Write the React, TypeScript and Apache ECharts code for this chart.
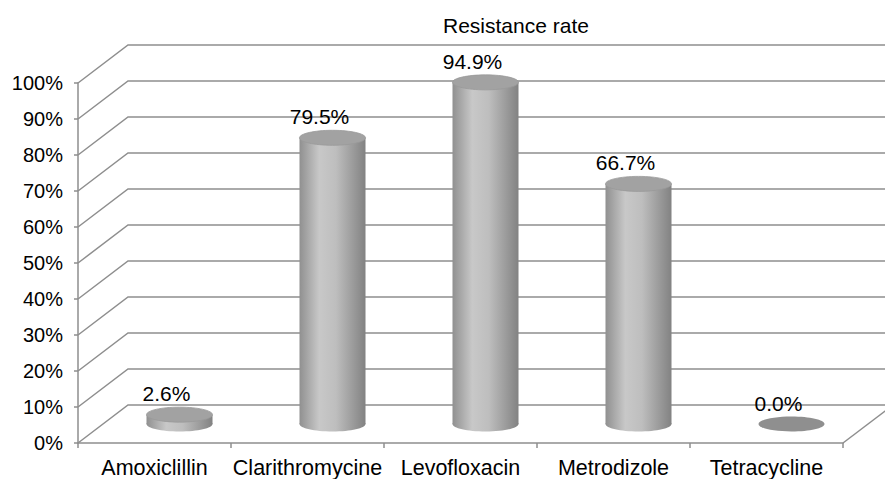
import React, { useEffect, useRef } from "react";
import * as echarts from "echarts";

const categories = ["Amoxiclillin", "Clarithromycine", "Levofloxacin", "Metrodizole", "Tetracycline"];
const rates = [2.6, 79.5, 94.9, 66.7, 0.0];
const gridValues = [0, 10, 20, 30, 40, 50, 60, 70, 80, 90, 100];
const titleText = "Resistance rate";

const DX = 50;
const DY = 38;
const RX = 33;
const RY = 7.5;
const GRID_COLOR = "#8e8e8e";
const FONT = "Liberation Sans, Arial, sans-serif";

export default function App() {
  const ref = useRef<HTMLDivElement>(null);
  useEffect(() => {
    if (!ref.current) return;
    const chart = echarts.init(ref.current, undefined, { renderer: "svg" });
    const bodyGrad = () =>
      new echarts.graphic.LinearGradient(0, 0, 1, 0, [
        { offset: 0, color: "#909090" },
        { offset: 0.3, color: "#c8c8c8" },
        { offset: 0.55, color: "#bebebe" },
        { offset: 1, color: "#828282" },
      ]);
    const option: any = {
      animation: false,
      backgroundColor: "#ffffff",
      title: {
        text: titleText,
        left: 438,
        top: 10,
        textStyle: { fontFamily: FONT, fontSize: 21, fontWeight: "normal", color: "#000" },
      },
      grid: { left: 78, right: 42, top: 83, bottom: 35 },
      xAxis: {
        type: "category",
        data: categories,
        boundaryGap: true,
        axisLine: { show: true, lineStyle: { color: GRID_COLOR, width: 1.5 } },
        axisTick: { show: true, length: 5, interval: 0, alignWithLabel: false, lineStyle: { color: GRID_COLOR, width: 1.5 } },
        axisLabel: {
          interval: 0,
          margin: 14,
          fontFamily: FONT,
          fontSize: 21.5,
          color: "#000",
        },
        splitLine: { show: false },
      },
      yAxis: {
        type: "value",
        min: 0,
        max: 100,
        interval: 10,
        axisLine: { show: true, lineStyle: { color: GRID_COLOR, width: 1.5 } },
        axisTick: { show: true, length: 4, lineStyle: { color: GRID_COLOR, width: 1.5 } },
        axisLabel: {
          formatter: "{value}%",
          margin: 15,
          fontFamily: FONT,
          fontSize: 20,
          color: "#000",
        },
        splitLine: { show: false },
      },
      series: [
        {
          type: "custom",
          z: 1,
          silent: true,
          data: gridValues.map((v) => [0, v]),
          renderItem: (params: any, api: any) => {
            const v = api.value(1);
            const cs = params.coordSys;
            const y = api.coord([0, v])[1];
            const x0 = cs.x;
            const x1 = cs.x + cs.width;
            const children: any[] = [
              {
                type: "polyline",
                shape: { points: [[x0, y], [x0 + DX, y - DY], [x1 + DX, y - DY]] },
                style: { stroke: GRID_COLOR, lineWidth: 1.5, fill: "none" },
              },
            ];
            if (v === 0) {
              children.push({
                type: "line",
                shape: { x1: x1, y1: y, x2: x1 + DX, y2: y - DY },
                style: { stroke: GRID_COLOR, lineWidth: 1.5 },
              });
            }
            return { type: "group", children };
          },
        },
        {
          type: "custom",
          z: 2,
          data: rates.map((v, i) => [i, v]),
          renderItem: (params: any, api: any) => {
            const idx = api.value(0);
            const v = api.value(1);
            const top = api.coord([idx, v]);
            const base = api.coord([idx, 0]);
            const cx = top[0] + DX / 2;
            const ty = top[1] - DY / 2;
            const by = base[1] - DY / 2;
            const h = by - ty;
            const children: any[] = [];
            if (h > 0.5) {
              children.push({
                type: "ellipse",
                shape: { cx, cy: by, rx: RX, ry: RY },
                style: { fill: bodyGrad() },
              });
              children.push({
                type: "rect",
                shape: { x: cx - RX, y: ty, width: RX * 2, height: h },
                style: { fill: bodyGrad() },
              });
              children.push({
                type: "ellipse",
                shape: { cx, cy: ty, rx: RX, ry: RY },
                style: { fill: "#a2a2a2", stroke: "#999999", lineWidth: 0.8 },
              });
            } else {
              children.push({
                type: "ellipse",
                shape: { cx, cy: by, rx: RX, ry: RY },
                style: { fill: "#8f8f8f" },
              });
            }
            children.push({
              type: "text",
              style: {
                x: top[0] + 12,
                y: top[1] - 40,
                text: v.toFixed(1) + "%",
                textAlign: "center",
                textVerticalAlign: "middle",
                fontFamily: FONT,
                fontSize: 21,
                fill: "#000",
              },
            });
            return { type: "group", children };
          },
        },
      ],
    };
    chart.setOption(option);
    return () => chart.dispose();
  }, []);
  return (
    <div
      ref={ref}
      style={{ position: "fixed", left: 0, top: 0, width: 885, height: 479, background: "#fff" }}
    />
  );
}
